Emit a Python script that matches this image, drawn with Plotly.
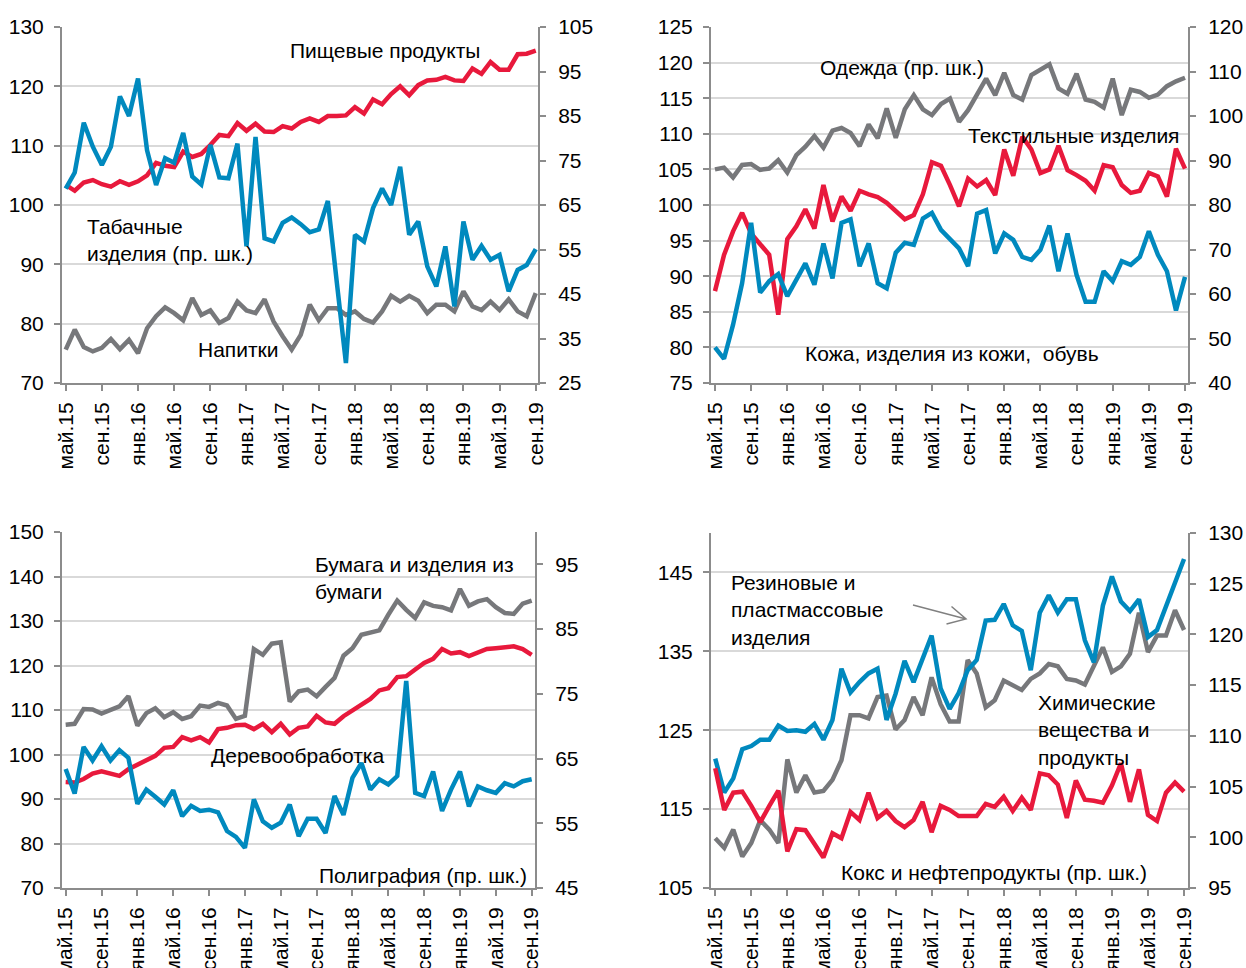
import plotly.graph_objects as go

W, H = 1246, 968

months = list(range(53))
tick_pos = list(range(0, 53, 4))
tick_text = ["май.15", "сен.15", "янв.16", "май.16", "сен.16", "янв.17", "май.17",
             "сен.17", "янв.18", "май.18", "сен.18", "янв.19", "май.19", "сен.19"]

# панель 1
food = [103.4, 102.4, 103.8, 104.2, 103.5, 103.1, 104.0, 103.4, 104.0, 105.0,
        107.1, 106.6, 106.4, 109.0, 108.1, 108.6, 110.1, 111.8, 111.6, 113.8,
        112.5, 113.7, 112.4, 112.3, 113.3, 112.9, 114.0, 114.6, 114.0, 115.0,
        115.0, 115.1, 116.5, 115.4, 117.8, 117.0, 118.7, 120.0, 118.5, 120.2,
        121.0, 121.1, 121.6, 121.0, 120.9, 123.0, 122.1, 124.1, 122.8, 122.8,
        125.4, 125.5, 126.0]
tobacco = [68.7, 72.3, 83.5, 78.1, 74.0, 78.1, 89.4, 85.0, 93.4, 77.3,
           69.5, 75.5, 74.5, 81.2, 71.4, 69.6, 78.5, 71.2, 71.0, 78.8,
           55.7, 80.3, 57.5, 56.8, 61.0, 62.2, 60.7, 58.9, 59.5, 65.9,
           47.5, 29.5, 58.3, 56.8, 64.3, 68.7, 65.0, 73.6, 58.3, 61.3,
           51.2, 46.7, 55.7, 42.2, 61.3, 52.7, 55.8, 52.7, 53.8, 45.6,
           50.4, 51.5, 55.1]
drinks = [32.5, 37.0, 33.1, 32.1, 32.9, 34.9, 32.6, 34.7, 31.7, 37.3,
          40.0, 42.0, 40.7, 39.1, 44.1, 40.3, 41.3, 38.5, 39.6, 43.3,
          41.3, 40.7, 43.8, 38.8, 35.5, 32.5, 35.8, 42.6, 39.1, 41.8,
          41.8, 40.3, 41.1, 39.4, 38.6, 41.1, 44.6, 43.3, 44.6, 43.5,
          40.7, 42.6, 42.6, 41.1, 45.6, 42.2, 41.4, 43.3, 41.4, 43.8,
          41.1, 40.0, 45.2]

# панель 2
textile = [87.9, 93.0, 96.3, 98.9, 96.0, 94.6, 93.0, 84.6, 95.2, 97.0,
           99.4, 96.7, 102.8, 97.7, 101.2, 99.2, 102.0, 101.5, 101.1, 100.3,
           99.2, 98.0, 98.6, 101.5, 106.0, 105.5, 102.8, 99.8, 103.7, 102.6,
           103.5, 101.4, 107.8, 104.1, 109.6, 107.8, 104.5, 105.0, 108.3, 104.9,
           104.2, 103.4, 102.0, 105.6, 105.3, 102.8, 101.7, 102.0, 104.5, 104.0,
           101.2, 107.9, 105.1]
leather = [80.0, 78.4, 83.2, 89.0, 97.5, 87.7, 89.3, 90.3, 87.2, 89.5,
           91.8, 88.8, 94.6, 89.7, 97.5, 98.0, 91.4, 94.6, 89.0, 88.3,
           93.3, 94.7, 94.4, 98.1, 98.9, 96.5, 95.1, 93.9, 91.4, 98.8,
           99.3, 93.2, 96.0, 95.1, 92.7, 92.3, 93.7, 97.1, 90.7, 96.0,
           90.2, 86.4, 86.4, 90.7, 89.3, 92.1, 91.6, 92.7, 96.3, 93.0,
           90.7, 85.2, 89.9]
clothes = [88.0, 88.4, 86.2, 89.0, 89.2, 87.9, 88.2, 90.1, 87.3, 91.2,
           93.1, 95.5, 92.9, 96.7, 97.3, 96.2, 93.2, 98.1, 95.0, 101.7,
           95.1, 101.5, 104.7, 101.5, 100.2, 102.7, 103.9, 98.7, 101.3, 104.7,
           108.4, 104.7, 109.7, 104.7, 103.7, 109.2, 110.3, 111.6, 106.2, 105.0,
           109.5, 103.7, 103.2, 101.9, 108.4, 100.2, 105.9, 105.4, 104.1, 104.8,
           106.7, 107.8, 108.6]

# панель 3
paper = [106.7, 106.9, 110.2, 110.1, 109.2, 109.9, 110.8, 113.1, 106.5, 109.3,
         110.4, 108.4, 109.5, 108.0, 108.6, 111.0, 110.7, 111.6, 111.0, 108.0,
         108.7, 123.7, 122.4, 124.9, 125.2, 111.9, 114.2, 114.6, 113.1, 115.2,
         117.2, 122.2, 123.9, 126.9, 127.3, 127.9, 131.4, 134.6, 132.5, 130.7,
         134.2, 133.4, 133.1, 132.4, 137.2, 133.4, 134.4, 134.9, 133.1, 131.8,
         131.6, 133.9, 134.6]
wood = [93.8, 93.7, 94.5, 95.7, 96.2, 95.8, 95.2, 96.7, 97.7, 98.7,
        99.7, 101.5, 101.7, 103.9, 103.2, 103.9, 102.7, 105.7, 106.0, 106.6,
        106.7, 105.7, 106.9, 105.0, 106.9, 104.5, 106.0, 106.3, 108.7, 107.2,
        106.9, 108.6, 109.9, 111.0, 112.5, 114.4, 114.9, 117.4, 117.6, 119.1,
        120.6, 121.5, 123.7, 122.7, 123.0, 122.1, 123.0, 123.7, 123.9, 124.2,
        124.3, 123.7, 122.4]
printing = [63.4, 59.6, 66.8, 64.7, 66.9, 64.7, 66.3, 65.1, 58.0, 60.2,
            59.1, 57.9, 60.1, 56.1, 57.7, 56.9, 57.1, 56.7, 53.8, 52.9,
            51.2, 58.7, 55.3, 54.3, 55.1, 57.9, 53.0, 55.7, 55.7, 53.5,
            59.2, 56.3, 62.0, 64.3, 60.2, 61.8, 61.0, 62.3, 77.0, 59.7,
            59.2, 63.0, 56.9, 60.2, 63.0, 57.6, 60.7, 60.1, 59.7, 61.2,
            60.7, 61.5, 61.8]

# панель 4
rubber = [121.4, 117.1, 118.9, 122.6, 123.0, 123.8, 123.8, 125.6, 124.9, 125.0,
          124.8, 125.8, 123.8, 126.3, 132.8, 129.8, 131.1, 132.2, 132.8, 126.3,
          129.6, 133.8, 131.1, 134.1, 137.0, 130.3, 127.7, 129.7, 132.6, 133.9,
          138.9, 139.0, 141.0, 138.3, 137.6, 132.6, 139.9, 142.1, 139.9, 141.6,
          141.6, 136.4, 133.6, 140.8, 144.5, 141.3, 140.1, 141.6, 136.8, 137.7,
          140.8, 143.9, 146.7]
chem = [111.3, 110.1, 112.4, 109.0, 110.7, 113.6, 112.4, 110.7, 121.3, 117.1,
        119.3, 117.1, 117.3, 118.7, 121.2, 126.9, 126.9, 126.5, 129.2, 129.4,
        125.1, 126.3, 129.2, 126.9, 131.7, 128.3, 126.1, 126.1, 133.9, 132.2,
        127.9, 128.8, 131.3, 130.7, 130.1, 131.5, 132.2, 133.4, 133.1, 131.5,
        131.3, 130.8, 133.0, 135.5, 132.4, 133.1, 134.7, 139.9, 134.9, 137.0,
        137.0, 140.2, 137.7]
coke = [106.8, 102.7, 104.4, 104.5, 103.1, 101.5, 103.1, 104.6, 98.6, 100.8,
        100.7, 99.3, 98.0, 100.4, 99.9, 102.5, 101.7, 104.4, 101.9, 102.6,
        101.6, 101.0, 101.7, 103.5, 100.5, 103.1, 102.7, 102.1, 102.1, 102.1,
        103.3, 103.0, 104.0, 102.6, 103.9, 102.7, 106.3, 106.1, 105.2, 101.9,
        105.6, 103.7, 103.6, 103.4, 105.1, 107.3, 103.5, 106.7, 102.2, 101.6,
        104.4, 105.4, 104.5]

RED = "#e8193c"
BLUE = "#0089be"
GRAY = "#77787b"
GRID = "#d9d9d9"
AXIS = "#8c8c8c"
FONT = "Liberation Sans, Arial, sans-serif"
FS = 21


def ax_id(n):
    return "" if n == 1 else str(n)


fig = go.Figure()


def axis_style(**kw):
    base = dict(zeroline=False, showline=True, linecolor=AXIS, linewidth=2, automargin=False,
                ticks="outside", ticklen=6, tickwidth=1.5, tickcolor=AXIS,
                tickfont=dict(size=FS, color="black"), tickmode="array")
    base.update(kw)
    return base


def panel(k, px, py, xr, left, right):
    xa, yl, yr = ax_id(k), ax_id(2 * k - 1), ax_id(2 * k)
    fig.layout["xaxis" + xa] = axis_style(
        domain=[px[0] / W, px[1] / W], range=xr, anchor="y" + yl,
        tickvals=tick_pos, ticktext=tick_text, tickangle=-90,
        showgrid=False, ticklabelstandoff=3)
    fig.layout["yaxis" + yl] = axis_style(
        domain=[1 - py[1] / H, 1 - py[0] / H], range=left[0], anchor="x" + xa,
        tickvals=left[1], showgrid=True, gridcolor=GRID, gridwidth=2, ticklabelstandoff=6)
    fig.layout["yaxis" + yr] = axis_style(
        range=right[0], overlaying="y" + yl, side="right", anchor="x" + xa,
        tickvals=right[1], showgrid=False, ticklabelstandoff=8)


def add_line(k, ys, color, right=False):
    yid = ax_id(2 * k) if right else ax_id(2 * k - 1)
    fig.add_trace(go.Scatter(x=months, y=ys, mode="lines", line=dict(color=color, width=4.5),
                             xaxis="x" + ax_id(k), yaxis="y" + yid,
                             showlegend=False, hoverinfo="skip"))


def note(text, x_px, y_px):
    fig.add_annotation(text=text, x=x_px / W, y=1 - y_px / H, xref="paper", yref="paper",
                       xanchor="left", yanchor="middle", align="left", showarrow=False,
                       font=dict(size=FS, color="black", family=FONT))


panel(1, (62, 538), (27, 383), [-0.41, 52.25],
      ([70, 130], list(range(70, 131, 10))), ([25, 105], list(range(25, 106, 10))))
panel(2, (711, 1188), (27, 383), [-0.44, 52.33],
      ([75, 125], list(range(75, 126, 5))), ([40, 120], list(range(40, 121, 10))))
panel(3, (62, 535), (532, 888), [-0.41, 52.37],
      ([70, 150], list(range(70, 151, 10))), ([45, 100], list(range(45, 96, 10))))
panel(4, (711, 1188), (533, 888), [-0.47, 52.44],
      ([105, 150], list(range(105, 146, 10))), ([95, 130], list(range(95, 131, 5))))

add_line(1, drinks, GRAY, right=True)
add_line(1, food, RED)
add_line(1, tobacco, BLUE, right=True)

add_line(2, clothes, GRAY, right=True)
add_line(2, textile, RED)
add_line(2, leather, BLUE)

add_line(3, paper, GRAY)
add_line(3, wood, RED)
add_line(3, printing, BLUE, right=True)

add_line(4, chem, GRAY)
add_line(4, coke, RED, right=True)
add_line(4, rubber, BLUE)

note("Пищевые продукты", 288, 51)
note("Табачные<br>изделия (пр. шк.)", 85, 240)
note("Напитки", 196, 350)
note("Одежда (пр. шк.)", 818, 67)
note("Текстильные изделия", 966, 135)
note("Кожа, изделия из кожи,  обувь", 803, 353)
note("Бумага и изделия из<br>бумаги", 313, 578)
note("Деревообработка", 209, 755)
note("Полиграфия (пр. шк.)", 317, 875)
note("Резиновые и<br>пластмассовые<br>изделия", 729, 610)
note("Химические<br>вещества и<br>продукты", 1036, 730)
note("Кокс и нефтепродукты (пр. шк.)", 839, 872)


def pp(x, y):
    return f"{x / W:.5f},{1 - y / H:.5f}"


fig.add_shape(type="path", xref="paper", yref="paper",
              path=f"M{pp(913, 605)} L{pp(966, 619)} M{pp(951.5, 606.5)} L{pp(966, 619)} L{pp(946.5, 624)}",
              line=dict(color="#808080", width=1.5))

fig.update_layout(width=W, height=H, margin=dict(l=0, r=0, t=0, b=0),
                  paper_bgcolor="white", plot_bgcolor="white",
                  font=dict(family=FONT, size=FS, color="black"))

fig.write_html("out.html", config={"displayModeBar": False},
               post_script="document.body.style.margin='0';")
